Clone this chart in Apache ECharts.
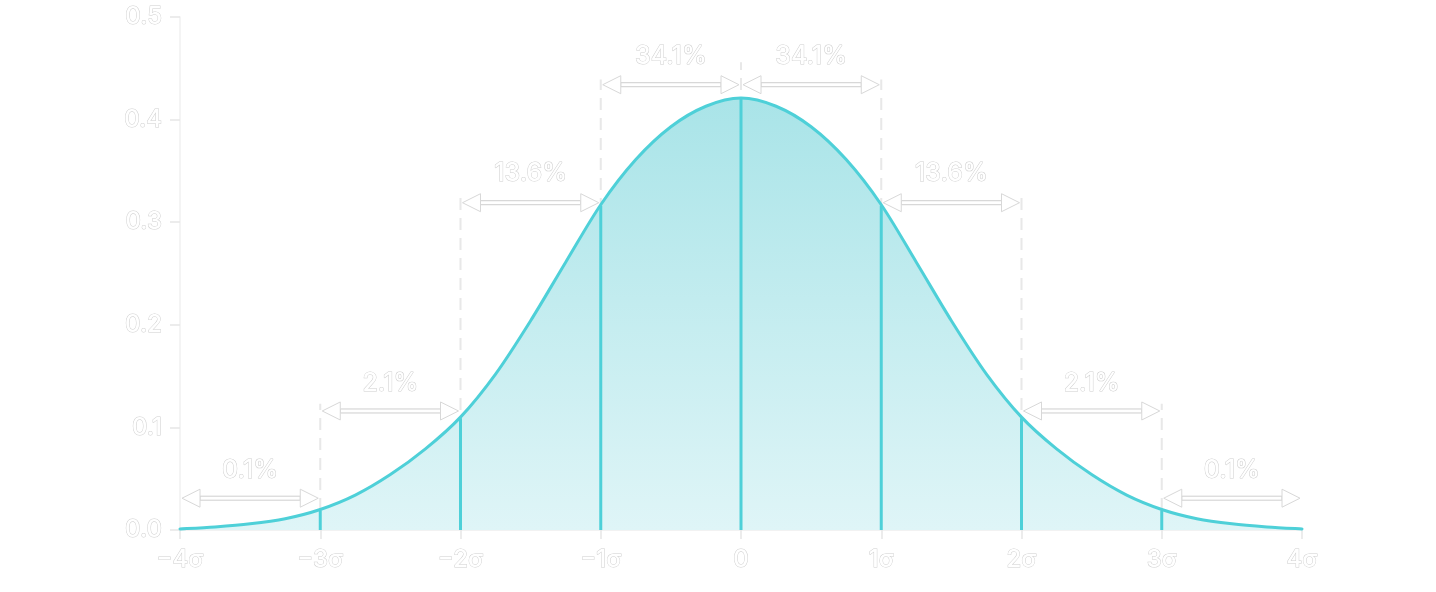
<!DOCTYPE html>
<html>
<head>
<meta charset="utf-8">
<title>Normal distribution</title>
<script src="https://cdn.jsdelivr.net/npm/echarts@6/dist/echarts.min.js"></script>
<style>
html, body { margin: 0; background: #fff; }
#chart { width: 1436px; height: 592px; }
</style>
</head>
<body>
<div id="chart"></div>
<script>
// curve, x in sigma units
var sigmaX = [-4, -3.75, -3.5, -3.25, -3, -2.75, -2.5, -2.25, -2, -1.75, -1.5, -1.25, -1, -0.75, -0.5, -0.25,
	0, 0.25, 0.5, 0.75, 1, 1.25, 1.5, 1.75, 2, 2.25, 2.5, 2.75, 3, 3.25, 3.5, 3.75, 4];
var density = [0.001, 0.003, 0.006, 0.011, 0.020, 0.034, 0.054, 0.079, 0.110, 0.152, 0.204, 0.261, 0.317, 0.361, 0.393, 0.413,
	0.421, 0.413, 0.393, 0.361, 0.317, 0.261, 0.204, 0.152, 0.110, 0.079, 0.054, 0.034, 0.020, 0.011, 0.006, 0.003, 0.001];

var sigmaLabels = ['−4σ', '−3σ', '−2σ', '−1σ', '0', '1σ', '2σ', '3σ', '4σ'];
var yLabels = ['0.0', '0.1', '0.2', '0.3', '0.4', '0.5'];

// vertical markers at each sigma and the dashed guides above them
var markerX = [-3, -2, -1, 0, 1, 2, 3];
var guideTop = [0.123, 0.325, 0.439, 0.456, 0.439, 0.325, 0.123];

// percentage bands
var bandFrom = [-4, -3, -2, -1, 0, 1, 2, 3];
var bandTo = [-3, -2, -1, 0, 1, 2, 3, 4];
var bandText = ['0.1%', '2.1%', '13.6%', '34.1%', '34.1%', '13.6%', '2.1%', '0.1%'];
var bandArrowY = [0.031, 0.116, 0.319, 0.434, 0.434, 0.319, 0.116, 0.031];
var bandTextY = [0.058, 0.143, 0.347, 0.462, 0.462, 0.347, 0.143, 0.058];

var FONT = 'Inter, "Noto Sans", sans-serif';
var TEAL = '#4ed0d8';
var GHOST = '#cfcfcf';

function densityAt(x) {
	return density[sigmaX.indexOf(x)];
}

var curve = sigmaX.map(function (x, i) { return [x, density[i]]; });
var markers = markerX.map(function (x) { return [x, densityAt(x)]; });
var guides = markerX.map(function (x, i) { return [x, guideTop[i]]; });
var bands = bandFrom.map(function (f, i) { return [f, bandTo[i], bandArrowY[i], bandTextY[i], bandText[i]]; });

// catmull-rom through the projected points, as an svg path
function splinePath(pts) {
	var d = 'M' + pts[0][0] + ',' + pts[0][1];
	for (var i = 0; i < pts.length - 1; i++) {
		var p0 = pts[Math.max(i - 1, 0)], p1 = pts[i], p2 = pts[i + 1], p3 = pts[Math.min(i + 2, pts.length - 1)];
		var c1x = p1[0] + (p2[0] - p0[0]) / 6, c1y = p1[1] + (p2[1] - p0[1]) / 6;
		var c2x = p2[0] - (p3[0] - p1[0]) / 6, c2y = p2[1] - (p3[1] - p1[1]) / 6;
		d += 'C' + c1x + ',' + c1y + ',' + c2x + ',' + c2y + ',' + p2[0] + ',' + p2[1];
	}
	return d;
}

var chart = echarts.init(document.getElementById('chart'));

chart.setOption({
	animation: false,
	backgroundColor: '#fff',
	grid: { left: 180, right: 134, top: 17, bottom: 62 },
	xAxis: {
		type: 'value', min: -4, max: 4, interval: 1,
		splitLine: { show: false },
		axisLine: { lineStyle: { color: '#eeeeee', width: 1.5 } },
		axisTick: { length: 9, lineStyle: { color: '#e6e6e6', width: 1.5 } },
		axisLabel: {
			margin: 18, fontSize: 24, fontFamily: FONT, fontWeight: 500,
			color: '#fff', textBorderColor: GHOST, textBorderWidth: 1,
			formatter: function (v) { return sigmaLabels[v + 4]; }
		}
	},
	yAxis: {
		type: 'value', min: 0, max: 0.5, interval: 0.1,
		splitLine: { show: false },
		axisLine: { show: true, onZero: false, lineStyle: { color: '#f0f0f0', width: 1.5 } },
		axisTick: { show: true, length: 10, lineStyle: { color: '#e6e6e6', width: 1.5 } },
		axisLabel: {
			margin: 18, fontSize: 24, fontFamily: FONT, fontWeight: 500,
			color: '#fff', textBorderColor: GHOST, textBorderWidth: 1,
			formatter: function (v) { return yLabels[Math.round(v * 10)]; }
		}
	},
	series: [
		{
			// dashed guides from axis up to arrow level
			type: 'custom', z: 1, data: guides, silent: true,
			renderItem: function (params, api) {
				var x = api.value(0);
				var a = api.coord([x, 0]);
				var b = api.coord([x, api.value(1)]);
				return {
					type: 'line',
					shape: { x1: a[0], y1: a[1], x2: b[0], y2: b[1] },
					style: { stroke: '#e8e8e8', lineWidth: 2, lineDash: [12, 8] }
				};
			}
		},
		{
			// the bell curve with its filled area
			type: 'custom', z: 2, data: [0], silent: true,
			renderItem: function (params, api) {
				var pts = curve.map(function (p) { return api.coord(p); });
				var d = splinePath(pts);
				var base0 = api.coord([sigmaX[0], 0]);
				var base1 = api.coord([sigmaX[sigmaX.length - 1], 0]);
				return {
					type: 'group',
					children: [
						{
							type: 'path',
							shape: { pathData: d + 'L' + base1[0] + ',' + base1[1] + 'L' + base0[0] + ',' + base0[1] + 'Z' },
							style: {
								fill: new echarts.graphic.LinearGradient(0, 0, 0, 1, [
									{ offset: 0, color: '#a9e4e8' },
									{ offset: 1, color: '#dff5f7' }
								]),
								stroke: null
							}
						},
						{
							type: 'path',
							shape: { pathData: d },
							style: { fill: null, stroke: TEAL, lineWidth: 3, lineCap: 'round' }
						}
					]
				};
			}
		},
		{
			type: 'custom', z: 3, data: markers, silent: true,
			renderItem: function (params, api) {
				var x = api.value(0);
				var a = api.coord([x, 0]);
				var b = api.coord([x, api.value(1)]);
				return {
					type: 'line',
					shape: { x1: a[0], y1: a[1], x2: b[0], y2: b[1] + 1 },
					style: { stroke: TEAL, lineWidth: 3 }
				};
			}
		},
		{
			type: 'custom', z: 4, data: bands, silent: true,
			renderItem: function (params, api) {
				var p0 = api.coord([api.value(0), api.value(2)]);
				var p1 = api.coord([api.value(1), api.value(2)]);
				var lp = api.coord([(api.value(0) + api.value(1)) / 2, api.value(3)]);
				var x0 = p0[0] + 2, x1 = p1[0] - 2, y = p0[1];
				var h = 18, w = 9;
				var headStyle = { fill: '#fff', stroke: '#d8d8d8', lineWidth: 1 };
				return {
					type: 'group',
					children: [
						{
							type: 'rect',
							shape: { x: x0 + h, y: y - 2, width: x1 - x0 - 2 * h, height: 4 },
							style: { fill: '#fff', stroke: '#cfcfcf', lineWidth: 1 }
						},
						{
							type: 'polygon',
							shape: { points: [[x0, y], [x0 + h, y - w], [x0 + h, y + w]] },
							style: headStyle
						},
						{
							type: 'polygon',
							shape: { points: [[x1, y], [x1 - h, y - w], [x1 - h, y + w]] },
							style: headStyle
						},
						{
							type: 'text',
							style: {
								text: bands[params.dataIndex][4],
								x: lp[0], y: lp[1],
								align: 'center', verticalAlign: 'middle',
								textAlign: 'center', textVerticalAlign: 'middle',
								font: '500 25px ' + FONT,
								fill: '#fff', stroke: GHOST, lineWidth: 1
							}
						}
					]
				};
			}
		}
	]
});
</script>
</body>
</html>
